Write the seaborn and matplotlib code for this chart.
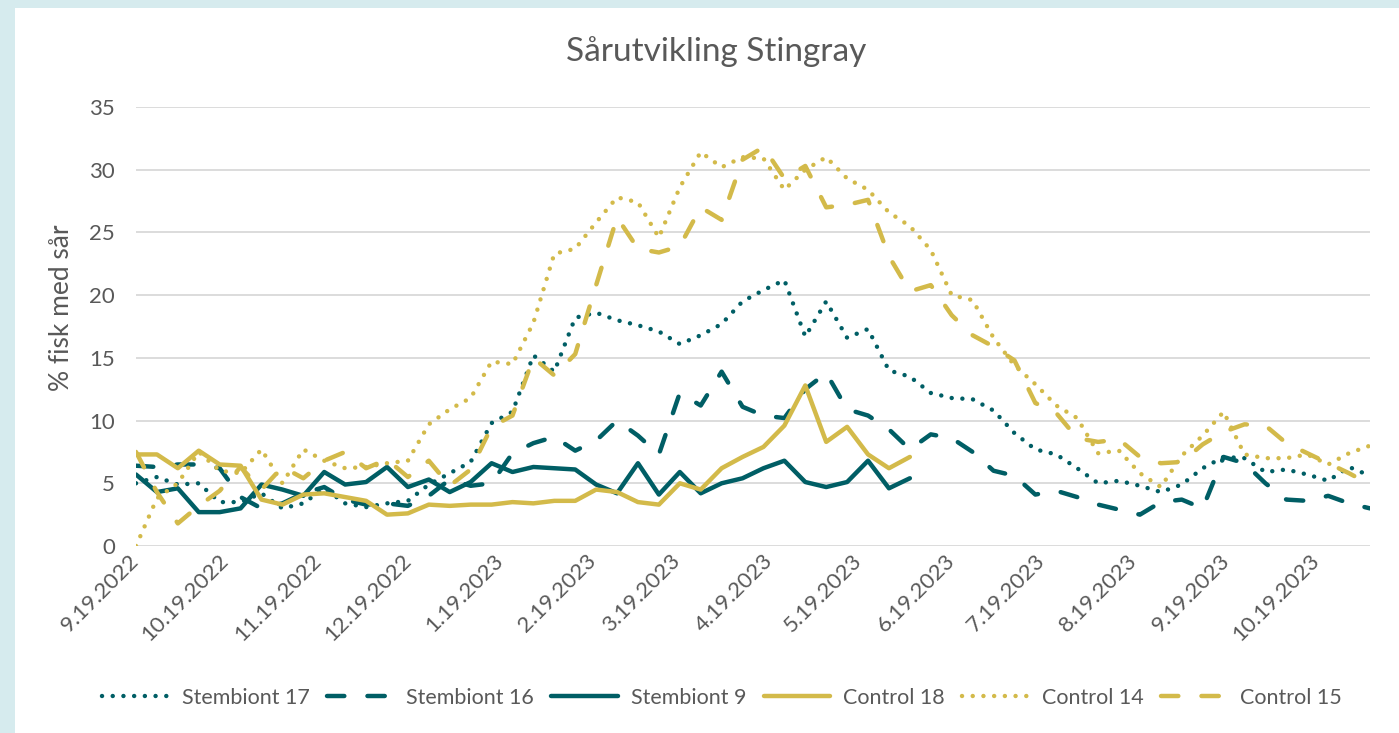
import pandas as pd
import matplotlib
matplotlib.use("Agg")
import matplotlib.pyplot as plt
from matplotlib.patches import Rectangle
import seaborn as sns

# ukentlige målinger fra 19.09.2022
dates = pd.date_range("2022-09-19", periods=60, freq="7D")
tick_dates = pd.date_range("2022-09-19", "2023-10-19", freq=pd.DateOffset(months=1))
tick_labels = [f"{d.month}.{d.day}.{d.year}" for d in tick_dates]

stembiont_17 = [5.0, 5.5, 4.9, 5.0, 3.5, 3.5, 4.2, 3.0, 3.4, 4.6,
                3.4, 3.1, 3.4, 3.6, 4.9, 5.8, 6.7, 9.8, 10.7, 15.2,
                13.9, 18.2, 18.6, 18.0, 17.6, 17.1, 16.1, 16.8, 17.7, 19.5,
                20.4, 21.2, 16.7, 19.5, 16.6, 17.3, 14.0, 13.5, 12.2, 11.8,
                11.7, 10.8, 9.0, 7.7, 7.3, 6.2, 5.0, 5.2, 4.8, 4.3,
                4.9, 6.2, 7.1, 7.0, 5.9, 6.1, 5.7, 5.2, 6.3, 5.6]
stembiont_16 = [6.4, 6.3, 6.5, 6.5, 6.2, 3.9, 3.0, 3.4, 4.2, 4.7,
                3.7, 3.3, 3.4, 3.2, 4.0, 5.3, 4.8, 5.0, 7.4, 8.2,
                8.7, 7.6, 8.4, 10.0, 8.8, 7.3, 12.2, 11.2, 13.9, 11.1,
                10.4, 10.2, 12.5, 13.8, 10.9, 10.4, 9.3, 7.7, 8.9, 8.6,
                7.5, 6.0, 5.6, 4.1, 4.4, 3.9, 3.3, 2.9, 2.5, 3.5,
                3.7, 3.0, 7.1, 6.6, 5.0, 3.7, 3.6, 4.0, 3.4, 3.0]
stembiont_9 = [5.7, 4.3, 4.6, 2.7, 2.7, 3.0, 4.9, 4.5, 4.0, 5.9,
               4.9, 5.1, 6.3, 4.7, 5.3, 4.3, 5.1, 6.6, 5.9, 6.3,
               6.2, 6.1, 4.9, 4.2, 6.6, 4.1, 5.9, 4.2, 5.0, 5.4,
               6.2, 6.8, 5.1, 4.7, 5.1, 6.8, 4.6, 5.4]
control_18 = [7.3, 7.3, 6.2, 7.6, 6.5, 6.4, 3.7, 3.3, 4.1, 4.2,
              3.9, 3.6, 2.5, 2.6, 3.3, 3.2, 3.3, 3.3, 3.5, 3.4,
              3.6, 3.6, 4.5, 4.3, 3.5, 3.3, 5.0, 4.5, 6.2, 7.1,
              7.9, 9.6, 12.8, 8.3, 9.5, 7.3, 6.2, 7.1]
control_14 = [0.0, 3.8, 5.0, 7.5, 6.0, 5.8, 7.7, 5.0, 7.7, 6.8,
              6.2, 6.3, 6.6, 6.8, 9.7, 10.9, 11.8, 14.7, 14.5, 17.8,
              23.3, 23.7, 25.8, 27.8, 27.4, 24.6, 28.6, 31.4, 30.2, 31.0,
              30.9, 28.4, 30.0, 31.0, 29.3, 28.4, 26.6, 25.5, 23.6, 20.0,
              19.6, 16.6, 14.4, 12.9, 11.2, 10.2, 7.4, 7.6, 5.8, 4.7,
              7.2, 8.8, 10.7, 7.3, 7.0, 7.0, 7.3, 6.5, 7.4, 8.0]
control_15 = [7.5, 4.3, 1.8, 3.2, 4.4, 6.3, 4.5, 6.3, 5.4, 6.8,
              7.5, 6.2, 6.9, 5.5, 6.8, 4.8, 6.1, 9.5, 10.4, 15.0,
              13.6, 15.3, 20.8, 26.2, 23.7, 23.4, 23.9, 27.0, 26.0, 30.8,
              31.8, 29.3, 30.3, 27.0, 27.2, 27.6, 23.1, 20.3, 20.8, 18.4,
              16.8, 15.9, 14.8, 11.4, 10.6, 8.6, 8.3, 8.5, 7.1, 6.6,
              6.7, 8.1, 9.1, 9.7, 9.6, 8.2, 7.4, 6.6, 5.8, 4.9]

TEAL = "#005E65"
GOLD = "#D3BA4A"
GREY = "#595959"
DOT = (0, (0.01, 2.4))
DASH = (0, (3.9, 5.2))

series = [
    ("Stembiont 17", stembiont_17, TEAL, DOT),
    ("Stembiont 16", stembiont_16, TEAL, DASH),
    ("Stembiont 9", stembiont_9, TEAL, "-"),
    ("Control 18", control_18, GOLD, "-"),
    ("Control 14", control_14, GOLD, DOT),
    ("Control 15", control_15, GOLD, DASH),
]

sns.set_style("white")
plt.rcParams["font.family"] = ["Lato", "DejaVu Sans"]

W, H = 1399, 733
fig = plt.figure(figsize=(W / 100, H / 100), dpi=100, facecolor="#D6EBEE")
# hvit bakgrunn med lys ramme oppe og til venstre
fig.patches.append(Rectangle((15 / W, 0), 1, 1 - 8 / H, transform=fig.transFigure,
                             facecolor="white", edgecolor="none", zorder=-1))
ax = fig.add_axes([136 / W, 1 - 546 / H, (1370 - 136) / W, (546 - 107) / H])
ax.set_facecolor("none")

for name, vals, color, ls in series:
    sns.lineplot(x=dates[:len(vals)], y=vals, ax=ax, color=color, linewidth=3.2,
                 linestyle=ls, dash_capstyle="round", solid_capstyle="round",
                 solid_joinstyle="round", label=name)

if ax.get_legend() is not None:
    ax.get_legend().remove()

ax.set_xlim(dates[0], dates[-1])
ax.set_ylim(0, 35)
ax.set_yticks(range(0, 36, 5))
ax.set_xticks(tick_dates)
ax.set_xticklabels(tick_labels, rotation=45, ha="right", va="center", rotation_mode="anchor")
ax.yaxis.grid(True, color="#D9D9D9", linewidth=1.3)
ax.xaxis.grid(False)
ax.set_axisbelow(True)
sns.despine(ax=ax, left=True, bottom=True)
ax.tick_params(axis="both", length=0, labelsize=16, labelcolor=GREY)
ax.tick_params(axis="y", pad=15)
ax.tick_params(axis="x", pad=8)
ax.set_xlabel("")
ax.set_ylabel("% fisk med sår", fontsize=19, color=GREY)
ax.yaxis.set_label_coords(-0.05, (546 - 308) / (546 - 107))

fig.text(716 / W, 1 - 52 / H, "Sårutvikling Stingray", fontsize=24, color=GREY,
         ha="center", va="center")

handles, labels = ax.get_legend_handles_labels()
fig.legend(handles, labels, loc="center", bbox_to_anchor=(722 / W, 1 - 698 / H), ncol=6,
           frameon=False, fontsize=15.5, labelcolor=GREY, handlelength=3.1,
           handletextpad=0.6, columnspacing=0.8)

fig.savefig("out.png", dpi=100, facecolor=fig.get_facecolor())
